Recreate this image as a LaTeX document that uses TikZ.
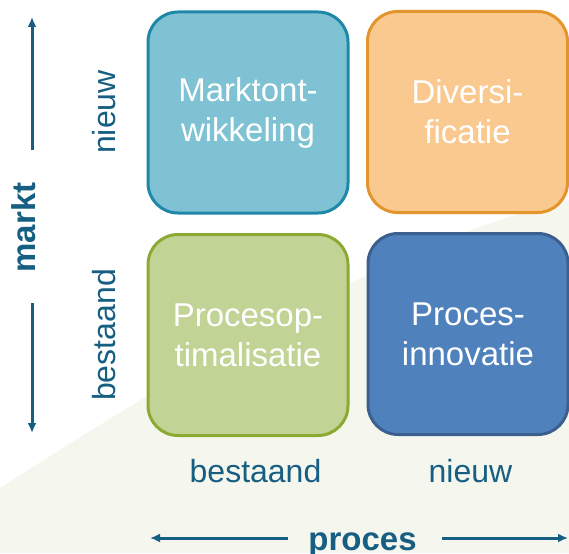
\documentclass[tikz,border=0pt]{standalone}
\usepackage{fontspec}
\setmainfont{Liberation Sans}
\usetikzlibrary{arrows.meta}
\definecolor{ink}{HTML}{175E83}
\definecolor{bgA}{HTML}{F5F6EE}
\definecolor{fillA}{HTML}{7FC2D4}\definecolor{drawA}{HTML}{1F88A8}
\definecolor{fillB}{HTML}{FAC990}\definecolor{drawB}{HTML}{E3952B}
\definecolor{fillC}{HTML}{C2D396}\definecolor{drawC}{HTML}{8CAA32}
\definecolor{fillD}{HTML}{4F81BD}\definecolor{drawD}{HTML}{3B5F8E}
\begin{document}
\begin{tikzpicture}[x=1pt,y=-1pt,
  quad/.style={rectangle,rounded corners=30pt,minimum width=200pt,minimum height=201pt,
    inner sep=0pt,line width=3pt,text=white,align=center,
    font=\fontsize{33}{40}\selectfont},
  lbl/.style={text=ink,inner sep=0pt,anchor=base,font=\fontsize{32}{38}\selectfont},
  axis/.style={text=ink,inner sep=0pt,anchor=base,font=\fontsize{33}{38}\selectfont\bfseries},
  arr/.style={draw=ink,line width=3pt,-{Latex[length=10pt,width=9pt]}}]
\useasboundingbox (0,0) rectangle (569,553);
\fill[white] (0,0) rectangle (569,553);
\fill[bgA] (0,488) .. controls (200,360) and (400,240) .. (569,200) -- (569,553) -- (0,553) -- cycle;
% boxes
\node[quad,fill=fillA,draw=drawA] (mo) at (248,112.5) {Marktont-\\wikkeling};
\node[quad,fill=fillB,draw=drawB] (di) at (467.5,112) {Diversi-\\ficatie};
\node[quad,fill=fillC,draw=drawC] (po) at (248,335) {Procesop-\\timalisatie};
\node[quad,fill=fillD,draw=drawD] (pi) at (468,334) {Proces-\\innovatie};
% bottom labels
\node[lbl] (pb) at (255.5,482) {bestaand};
\node[lbl] (pn) at (470.5,482) {nieuw};
\node[axis] (proc) at (362.5,550) {proces};
% left labels
\node[lbl,rotate=90] (mn) at (115,112) {nieuw};
\node[lbl,rotate=90] (mb) at (115,335) {bestaand};
\node[axis,rotate=90] (markt) at (35,227.5) {markt};
% arrows
\coordinate (hl0) at (288,538); \coordinate (hl1) at (150,538);
\coordinate (hr0) at (442,538); \coordinate (hr1) at (568,538);
\coordinate (vu0) at (32,150); \coordinate (vu1) at (32,17);
\coordinate (vd0) at (32,303); \coordinate (vd1) at (32,433);
\draw[arr] (hl0) -- (hl1);
\draw[arr] (hr0) -- (hr1);
\draw[arr] (vu0) -- (vu1);
\draw[arr] (vd0) -- (vd1);
\end{tikzpicture}
\end{document}
